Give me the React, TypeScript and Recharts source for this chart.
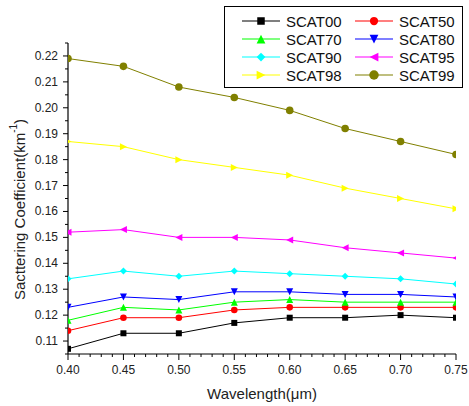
import React from 'react';
import { Line, LineChart, XAxis, YAxis } from 'recharts';

// wavelength in µm
const wavelength = [0.4, 0.45, 0.5, 0.55, 0.6, 0.65, 0.7, 0.75];

const scat00 = [0.107, 0.113, 0.113, 0.117, 0.119, 0.119, 0.12, 0.119];
const scat50 = [0.114, 0.119, 0.119, 0.122, 0.123, 0.123, 0.123, 0.123];
const scat70 = [0.118, 0.123, 0.122, 0.125, 0.126, 0.125, 0.125, 0.125];
const scat80 = [0.123, 0.127, 0.126, 0.129, 0.129, 0.128, 0.128, 0.127];
const scat90 = [0.134, 0.137, 0.135, 0.137, 0.136, 0.135, 0.134, 0.132];
const scat95 = [0.152, 0.153, 0.15, 0.15, 0.149, 0.146, 0.144, 0.142];
const scat98 = [0.187, 0.185, 0.18, 0.177, 0.174, 0.169, 0.165, 0.161];
const scat99 = [0.219, 0.216, 0.208, 0.204, 0.199, 0.192, 0.187, 0.182];

const xMajor = [0.4, 0.45, 0.5, 0.55, 0.6, 0.65, 0.7, 0.75];
const yTicks = [
  0.105, 0.11, 0.115, 0.12, 0.125, 0.13, 0.135, 0.14, 0.145, 0.15, 0.155, 0.16, 0.165,
  0.17, 0.175, 0.18, 0.185, 0.19, 0.195, 0.2, 0.205, 0.21, 0.215, 0.22, 0.225,
];

const W = 469;
const H = 406;
const PLOT = { left: 68, top: 43, right: 456, bottom: 354 };
const FONT = '"Liberation Sans", Arial, sans-serif';

type Shape = 'square' | 'circle' | 'up' | 'down' | 'diamond' | 'left' | 'right' | 'bigCircle';

const series: { key: string; name: string; color: string; shape: Shape; values: number[] }[] = [
  { key: 'scat00', name: 'SCAT00', color: '#000000', shape: 'square', values: scat00 },
  { key: 'scat50', name: 'SCAT50', color: '#ff0000', shape: 'circle', values: scat50 },
  { key: 'scat70', name: 'SCAT70', color: '#00ff00', shape: 'up', values: scat70 },
  { key: 'scat80', name: 'SCAT80', color: '#0000ff', shape: 'down', values: scat80 },
  { key: 'scat90', name: 'SCAT90', color: '#00ffff', shape: 'diamond', values: scat90 },
  { key: 'scat95', name: 'SCAT95', color: '#ff00ff', shape: 'left', values: scat95 },
  { key: 'scat98', name: 'SCAT98', color: '#ffff00', shape: 'right', values: scat98 },
  { key: 'scat99', name: 'SCAT99', color: '#808000', shape: 'bigCircle', values: scat99 },
];

const data = wavelength.map((w, i) => {
  const row: Record<string, number> = { w };
  series.forEach((s) => {
    row[s.key] = s.values[i];
  });
  return row;
});

// minor x ticks every 0.01 between the labelled ones
const xTicks = xMajor.flatMap((m, i) =>
  i < xMajor.length - 1 ? [0, 1, 2, 3, 4].map((k) => Math.round((m + k * 0.01) * 1000) / 1000) : [m]
);

const isMajorX = (v: number) => Math.abs(v * 20 - Math.round(v * 20)) < 1e-6;
const isMajorY = (v: number) => Math.abs(v * 100 - Math.round(v * 100)) < 1e-6;

function marker(shape: Shape, cx: number, cy: number, color: string, s = 1) {
  const h = 3.5 * s;
  switch (shape) {
    case 'square':
      return <rect x={cx - 3 * s} y={cy - 3 * s} width={6 * s} height={6 * s} fill={color} />;
    case 'circle':
      return <circle cx={cx} cy={cy} r={3.3 * s} fill={color} />;
    case 'bigCircle':
      return <circle cx={cx} cy={cy} r={3.8 * s} fill={color} />;
    case 'up':
      return <polygon points={`${cx},${cy - h} ${cx + h},${cy + h} ${cx - h},${cy + h}`} fill={color} />;
    case 'down':
      return <polygon points={`${cx},${cy + h} ${cx + h},${cy - h} ${cx - h},${cy - h}`} fill={color} />;
    case 'left':
      return <polygon points={`${cx - h},${cy} ${cx + h},${cy - h} ${cx + h},${cy + h}`} fill={color} />;
    case 'right':
      return <polygon points={`${cx + h},${cy} ${cx - h},${cy - h} ${cx - h},${cy + h}`} fill={color} />;
    case 'diamond':
      return <polygon points={`${cx},${cy - h} ${cx + h},${cy} ${cx},${cy + h} ${cx - h},${cy}`} fill={color} />;
  }
}

const YTick = (props: any) => {
  const { x, y, payload } = props;
  const v = payload.value as number;
  const major = isMajorY(v);
  return (
    <g>
      <line x1={x} x2={x - (major ? 5 : 3)} y1={y} y2={y} stroke="#000" strokeWidth={1} />
      {major && (
        <text x={x - 10} y={y} dy={4} textAnchor="end" fontSize={12} fontFamily={FONT} fill="#222">
          {v.toFixed(2)}
        </text>
      )}
    </g>
  );
};

const XTick = (props: any) => {
  const { x, y, payload } = props;
  const v = payload.value as number;
  const major = isMajorX(v);
  return (
    <g>
      <line x1={x} x2={x} y1={y} y2={y + (major ? 6 : 3)} stroke="#000" strokeWidth={1} />
      {major && (
        <text x={x} y={y + 19.5} textAnchor="middle" fontSize={12} fontFamily={FONT} fill="#222">
          {v.toFixed(2)}
        </text>
      )}
    </g>
  );
};

const XLabel = (props: any) => {
  const vb = props.viewBox;
  return (
    <text x={vb.x + vb.width / 2} y={vb.y + 45} textAnchor="middle" fontSize={15} fontFamily={FONT} fill="#222">
      Wavelength(μm)
    </text>
  );
};

const YLabel = (props: any) => {
  const vb = props.viewBox;
  const cx = 19;
  const cy = vb.y + vb.height / 2 + 11;
  return (
    <text
      x={cx}
      y={cy}
      transform={`rotate(-90 ${cx} ${cy})`}
      textAnchor="middle"
      dominantBaseline="central"
      fontSize={15}
      fontFamily={FONT}
      fill="#222"
    >
      Sacttering Coefficient(km
      <tspan dy={-6} fontSize={10}>
        -1
      </tspan>
      <tspan dy={6}>)</tspan>
    </text>
  );
};

// legend: 2 columns x 4 rows inside a framed box
const LEGEND = { x: 224, y: 6, w: 238, h: 81, row0: 21, rowGap: 18, cols: [242, 355] };

const LegendBox = () => (
  <svg width={W} height={H} style={{ position: 'absolute', left: 0, top: 0, pointerEvents: 'none' }}>
    <rect x={LEGEND.x + 0.5} y={LEGEND.y + 0.5} width={LEGEND.w} height={LEGEND.h} fill="#fff" stroke="#000" />
    {series.map((s, i) => {
      const col = i % 2;
      const row = Math.floor(i / 2);
      const lx = LEGEND.cols[col];
      const ly = LEGEND.row0 + row * LEGEND.rowGap;
      return (
        <g key={s.key}>
          <line x1={lx} x2={lx + 38} y1={ly} y2={ly} stroke={s.color} strokeWidth={1.2} />
          {marker(s.shape, lx + 19, ly, s.color, 1.25)}
          <text x={lx + 44} y={ly + 5.5} fontSize={15} fontFamily={FONT} fill="#111">
            {s.name}
          </text>
        </g>
      );
    })}
  </svg>
);

export default function App() {
  return (
    <div style={{ position: 'absolute', left: 0, top: 0, width: W, height: H, background: '#fff' }}>
      {/* markers are cut at the frame of the plot */}
      <svg width={0} height={0} style={{ position: 'absolute' }}>
        <defs>
          <clipPath id="plot-clip" clipPathUnits="userSpaceOnUse">
            <rect x={PLOT.left} y={PLOT.top} width={PLOT.right - PLOT.left} height={PLOT.bottom - PLOT.top} />
          </clipPath>
        </defs>
      </svg>
      <LineChart
        width={W}
        height={H}
        data={data}
        margin={{ top: PLOT.top, right: W - PLOT.right, bottom: H - PLOT.bottom - 30, left: PLOT.left - 60 }}
      >
        <XAxis
          dataKey="w"
          type="number"
          domain={[0.4, 0.75]}
          ticks={xTicks}
          interval={0}
          height={30}
          tickSize={0}
          tickMargin={0}
          tickLine={false}
          tick={<XTick />}
          axisLine={{ stroke: '#000', strokeWidth: 1.2 }}
          label={<XLabel />}
        />
        <YAxis
          type="number"
          domain={[0.105, 0.225]}
          ticks={yTicks}
          interval={0}
          width={60}
          tickSize={0}
          tickMargin={0}
          tickLine={false}
          tick={<YTick />}
          axisLine={{ stroke: '#000', strokeWidth: 1.2 }}
          label={<YLabel />}
        />
        {series.map((s) => (
          <Line
            key={s.key}
            dataKey={s.key}
            name={s.name}
            stroke={s.color}
            strokeWidth={1}
            isAnimationActive={false}
            activeDot={false}
            dot={(p: any) => (
              <g key={`${s.key}-${p.index}`} clipPath="url(#plot-clip)">
                {marker(s.shape, p.cx, p.cy, s.color)}
              </g>
            )}
          />
        ))}
      </LineChart>
      <LegendBox />
    </div>
  );
}
